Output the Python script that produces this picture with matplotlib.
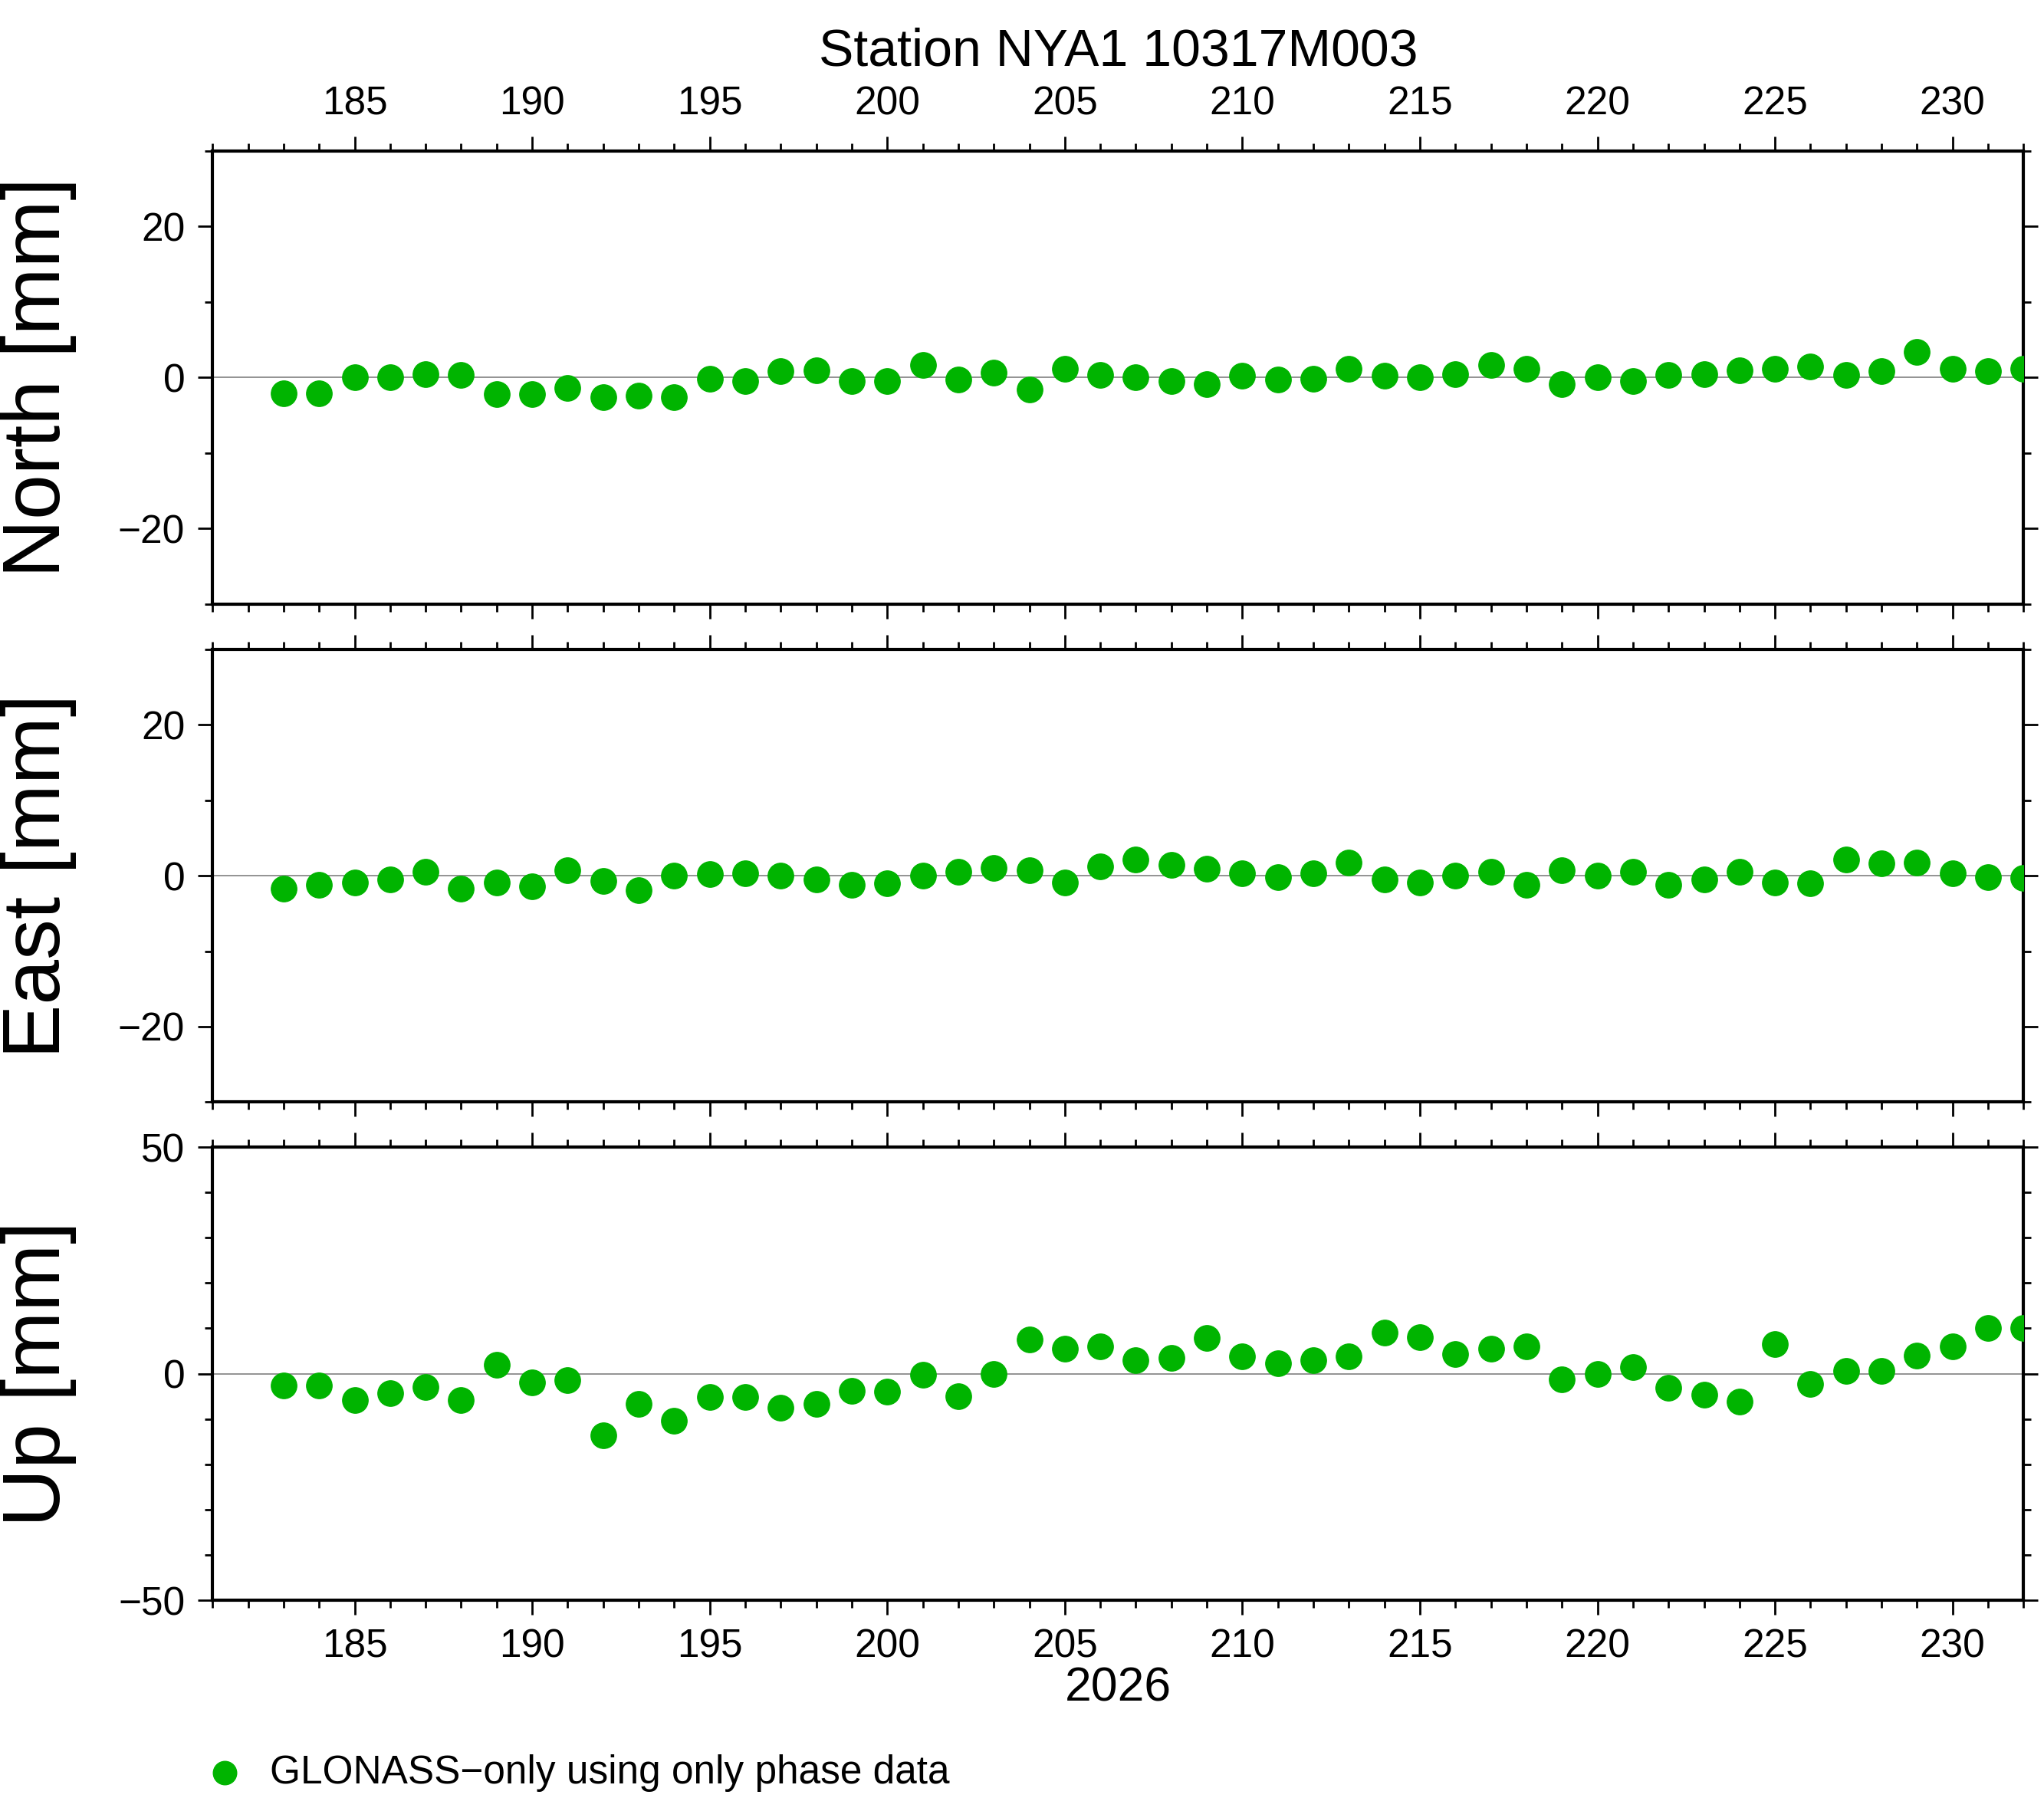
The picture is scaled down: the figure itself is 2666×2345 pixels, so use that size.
import numpy as np
import matplotlib.pyplot as plt
from matplotlib.ticker import MultipleLocator

plt.rcParams['font.family'] = ['Liberation Sans', 'DejaVu Sans']

days = np.arange(183, 233)
north = [-2.1, -2.1, 0, 0, 0.5, 0.4, -2.2, -2.2, -1.4, -2.6, -2.4, -2.6, -0.2, -0.5, 0.9, 1.0,
         -0.5, -0.5, 1.7, -0.3, 0.7, -1.6, 1.2, 0.3, 0, -0.5, -0.9, 0.2, -0.3, -0.2, 1.2, 0.2,
         0, 0.5, 1.7, 1.2, -0.9, 0, -0.5, 0.3, 0.5, 1.0, 1.2, 1.5, 0.3, 0.9, 3.4, 1.2, 0.9, 1.2]
east = [-1.7, -1.2, -0.9, -0.5, 0.5, -1.7, -0.9, -1.4, 0.7, -0.7, -1.9, 0, 0.2, 0.3, 0, -0.5,
        -1.2, -1.0, 0, 0.5, 1.0, 0.7, -0.9, 1.2, 2.1, 1.4, 0.9, 0.3, -0.2, 0.3, 1.7, -0.5,
        -0.9, 0, 0.5, -1.2, 0.7, 0, 0.5, -1.2, -0.5, 0.5, -0.9, -1.0, 2.1, 1.6, 1.7, 0.3, -0.2, -0.3]
up = [-2.6, -2.6, -5.8, -4.3, -2.9, -5.8, 2.0, -2.0, -1.4, -13.6, -6.6, -10.4, -5.2, -5.2, -7.5, -6.6,
      -3.8, -4.0, -0.3, -4.9, 0, 7.5, 5.5, 6.1, 2.9, 3.5, 7.8, 3.8, 2.3, 2.9, 3.8, 9.0,
      8.1, 4.3, 5.5, 6.1, -1.2, 0, 1.4, -3.2, -4.6, -6.1, 6.6, -2.3, 0.6, 0.6, 4.0, 6.1, 10.1, 10.1]

green = '#00b400'
fig = plt.figure(figsize=(26.66, 23.45), dpi=100)

panels = [(north, 'North [mm]', 30, 20, 10, 0.664),
          (east, 'East [mm]', 30, 20, 10, 0.387),
          (up, 'Up [mm]', 50, 50, 10, 0.110)]
for i, (vals, lab, lim, maj, mnr, bot) in enumerate(panels):
    ax = fig.add_axes([0.104, bot, 0.886, 0.252])
    ax.axhline(0, color='gray', lw=1.2, zorder=1)
    ax.plot(days, vals, 'o', color=green, ms=24, zorder=3)
    ax.set_xlim(181, 232)
    ax.set_ylim(-lim, lim)
    ax.xaxis.set_major_locator(MultipleLocator(5))
    ax.xaxis.set_minor_locator(MultipleLocator(1))
    ax.yaxis.set_major_locator(MultipleLocator(maj))
    ax.yaxis.set_minor_locator(MultipleLocator(mnr))
    ax.tick_params(which='both', direction='out', top=True, right=True, width=2,
                   labelsize=37, labeltop=(i == 0), labelbottom=(i == 2), pad=12)
    ax.tick_params(which='major', length=14)
    ax.tick_params(which='minor', length=7)
    for s in ax.spines.values():
        s.set_linewidth(3)
    ax.set_ylabel(lab, fontsize=76, labelpad=14)
    ax.yaxis.set_label_coords(-0.075, 0.5)
    if i == 0:
        ax.set_title('Station NYA1 10317M003', fontsize=49, pad=80)
    if i == 2:
        ax.set_xlabel('2026', fontsize=45, labelpad=0)

fig.lines.append(plt.Line2D([0.110], [0.014], marker='o', color=green, ms=22,
                            transform=fig.transFigure, figure=fig))
fig.text(0.132, 0.014, 'GLONASS\u2212only using only phase data', fontsize=37, va='center')

fig.savefig('out.png', dpi=100)
